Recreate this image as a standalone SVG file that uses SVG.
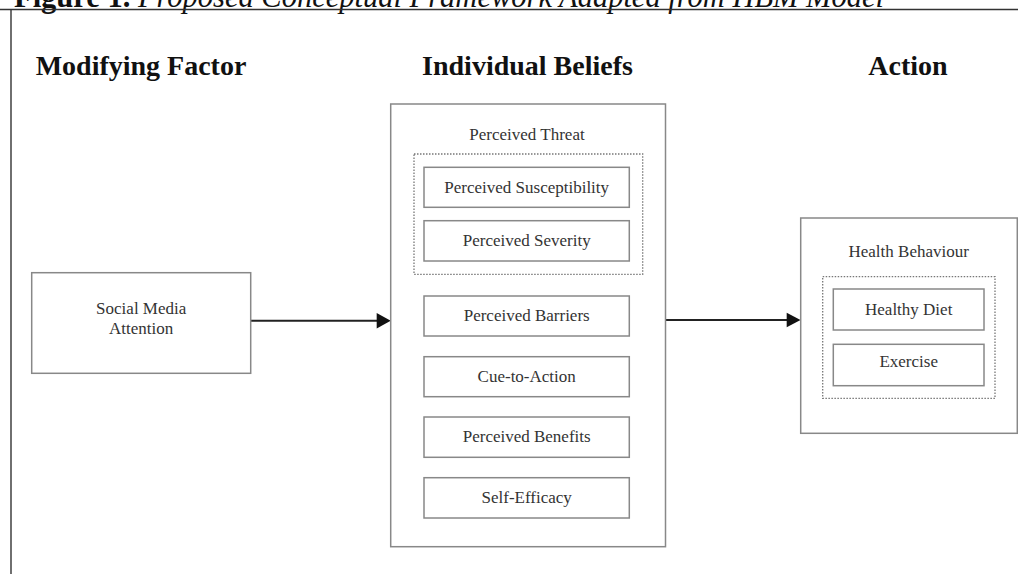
<svg xmlns="http://www.w3.org/2000/svg" width="1018" height="574" viewBox="0 0 1018 574">
<style>
.t{font-family:"Liberation Serif","Times New Roman",serif;fill:#333;font-size:17px;text-anchor:middle}
.h{font-family:"Liberation Serif","Times New Roman",serif;fill:#111;font-size:28px;font-weight:bold;text-anchor:middle}
.b{fill:#fff;stroke:#888;stroke-width:1.5}
.d{fill:none;stroke:#777;stroke-width:1.3;stroke-dasharray:1.5 1.5}
.c{stroke:#222;stroke-width:2;fill:none}
.a{fill:#111}
</style>
<rect width="1018" height="574" fill="#fff"/>
<g id="title">
<text x="14" y="7" font-family="Liberation Serif,serif" font-size="30.5" fill="#111"><tspan font-weight="bold">Figure 1.</tspan><tspan font-style="italic"> Proposed Conceptual Framework Adapted from HBM Model</tspan></text>
</g>
<g id="frame">
<line x1="0" y1="9.5" x2="1018" y2="9.5" stroke="#333" stroke-width="1.4"/>
<line x1="11" y1="9.5" x2="11" y2="574" stroke="#333" stroke-width="1.4"/>
</g>
<g id="headers">
<text class="h" x="141" y="75">Modifying Factor</text>
<text class="h" x="527.5" y="75">Individual Beliefs</text>
<text class="h" x="908" y="75">Action</text>
</g>
<g id="connectors">
<line class="c" x1="250.7" y1="320.7" x2="378" y2="320.7"/>
<polygon class="a" points="376.7,313 390.7,320.7 376.7,328.4"/>
<line class="c" x1="665.5" y1="320" x2="788" y2="320"/>
<polygon class="a" points="786.7,312.7 800.5,320 786.7,327.3"/>
</g>
<g id="social-media-attention">
<rect class="b" x="31.7" y="272.7" width="219" height="100.6"/>
<text class="t" x="141.2" y="314">Social Media</text>
<text class="t" x="141.2" y="334">Attention</text>
</g>
<g id="individual-beliefs">
<rect class="b" x="390.7" y="104" width="274.8" height="442.7"/>
<text class="t" x="527" y="140">Perceived Threat</text>
</g>
<g id="perceived-threat">
<rect class="d" x="414" y="154" width="228.7" height="120.3"/>
</g>
<g id="perceived-susceptibility">
<rect class="b" x="424" y="167.3" width="205.3" height="40"/>
<text class="t" x="526.7" y="192.5">Perceived Susceptibility</text>
</g>
<g id="perceived-severity">
<rect class="b" x="424" y="220.7" width="205.3" height="40.3"/>
<text class="t" x="526.7" y="246">Perceived Severity</text>
</g>
<g id="perceived-barriers">
<rect class="b" x="424" y="296" width="205.3" height="40"/>
<text class="t" x="526.7" y="321">Perceived Barriers</text>
</g>
<g id="cue-to-action">
<rect class="b" x="424" y="356.7" width="205.3" height="40"/>
<text class="t" x="526.7" y="381.7">Cue-to-Action</text>
</g>
<g id="perceived-benefits">
<rect class="b" x="424" y="417" width="205.3" height="40.3"/>
<text class="t" x="526.7" y="442.3">Perceived Benefits</text>
</g>
<g id="self-efficacy">
<rect class="b" x="424" y="477.7" width="205.3" height="40.3"/>
<text class="t" x="526.7" y="503">Self-Efficacy</text>
</g>
<g id="health-behaviour">
<rect class="b" x="800.7" y="218" width="216.6" height="215.3"/>
<text class="t" x="908.7" y="257.3">Health Behaviour</text>
<rect class="d" x="822.7" y="276.7" width="172.3" height="121.6"/>
</g>
<g id="healthy-diet">
<rect class="b" x="833.3" y="289" width="150.7" height="41"/>
<text class="t" x="908.7" y="315">Healthy Diet</text>
</g>
<g id="exercise">
<rect class="b" x="833.3" y="344.3" width="150.7" height="41.4"/>
<text class="t" x="908.7" y="366.7">Exercise</text>
</g>
</svg>
